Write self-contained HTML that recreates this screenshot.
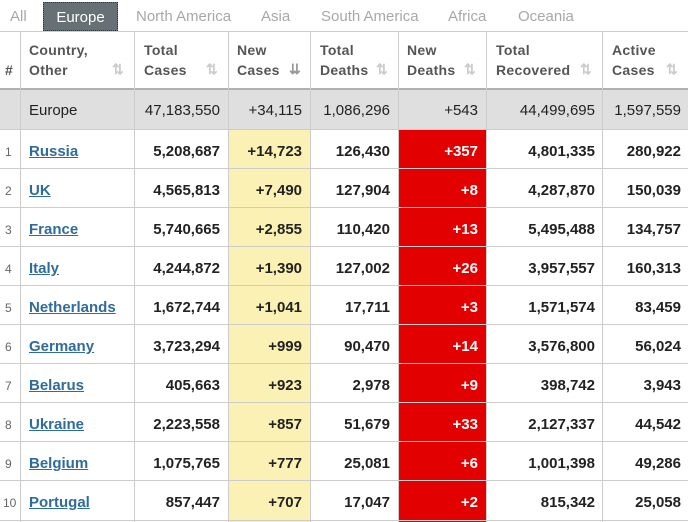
<!DOCTYPE html>
<html><head><meta charset="utf-8"><style>
*{margin:0;padding:0;box-sizing:border-box}
body{width:688px;height:522px;overflow:hidden;background:#fff;font-family:"Liberation Sans",Arial,sans-serif;position:relative}
.tab{position:absolute;top:2px;height:29px;line-height:29px;font-size:15px;color:#a8a8a8}
.tab.act{background:#667075;color:#fff;border:1px dotted #333;text-align:center}
.hl{position:absolute;left:0;width:688px;height:1px;background:#ccc}
.vl{position:absolute;width:1px;background:#ccc}
.c{position:absolute;font-size:15px;color:#222;white-space:nowrap}
.h{position:absolute;font-size:14px;font-weight:bold;color:#555;line-height:20px;letter-spacing:0.3px}
.si{position:absolute;font-size:14px;color:#ccc;font-weight:bold}
.r{text-align:right}
.b{font-weight:bold}
a{color:#2f6c9c;font-weight:bold;text-decoration:underline}
.n{position:absolute;font-size:12px;color:#666}
</style></head><body>
<div class="tab" style="left:10px">All</div>
<div class="tab act" style="left:43px;width:75px">Europe</div>
<div class="tab" style="left:136px">North America</div>
<div class="tab" style="left:261px">Asia</div>
<div class="tab" style="left:321px">South America</div>
<div class="tab" style="left:448px">Africa</div>
<div class="tab" style="left:518px">Oceania</div>

<div style="position:absolute;left:0;top:90px;width:688px;height:40px;background:#dfdfdf"></div>
<div style="position:absolute;left:229px;top:130px;width:81px;height:392px;background:#fcf1b4"></div>
<div style="position:absolute;left:398px;top:130px;width:89px;height:392px;background:#e30000"></div>

<div class="hl" style="top:31px"></div>
<div style="position:absolute;left:0;top:88px;width:688px;height:2px;background:#b0b0b0"></div>
<div class="hl" style="top:129px"></div>
<div class="hl" style="top:168px"></div>
<div class="hl" style="top:207px"></div>
<div class="hl" style="top:246px"></div>
<div class="hl" style="top:285px"></div>
<div class="hl" style="top:324px"></div>
<div class="hl" style="top:363px"></div>
<div class="hl" style="top:402px"></div>
<div class="hl" style="top:441px"></div>
<div class="hl" style="top:480px"></div>
<div class="hl" style="top:520px"></div>

<div class="vl" style="left:20px;top:31px;height:491px"></div>
<div class="vl" style="left:134px;top:31px;height:491px"></div>
<div class="vl" style="left:228px;top:31px;height:491px"></div>
<div class="vl" style="left:310px;top:31px;height:491px"></div>
<div class="vl" style="left:398px;top:31px;height:491px"></div>
<div class="vl" style="left:486px;top:31px;height:491px"></div>
<div class="vl" style="left:602px;top:31px;height:491px"></div>

<div class="h" style="left:5px;top:60px">#</div>
<div class="h" style="left:29px;top:40px">Country,<br>Other</div><div class="si" style="left:112px;top:61px">⇅</div>
<div class="h" style="left:144px;top:40px">Total<br>Cases</div><div class="si" style="left:206px;top:61px">⇅</div>
<div class="h" style="left:237px;top:40px">New<br>Cases</div><div class="si" style="left:289px;top:61px;color:#999">⇊</div>
<div class="h" style="left:320px;top:40px">Total<br>Deaths</div><div class="si" style="left:376px;top:61px">⇅</div>
<div class="h" style="left:407px;top:40px">New<br>Deaths</div><div class="si" style="left:464px;top:61px">⇅</div>
<div class="h" style="left:496px;top:40px">Total<br>Recovered</div><div class="si" style="left:580px;top:61px">⇅</div>
<div class="h" style="left:612px;top:40px">Active<br>Cases</div><div class="si" style="left:666px;top:61px">⇅</div>

<div id="rows"></div>
<script>
var d=[["","Europe","47,183,550","+34,115","1,086,296","+543","44,499,695","1,597,559"],
["1","Russia","5,208,687","+14,723","126,430","+357","4,801,335","280,922"],
["2","UK","4,565,813","+7,490","127,904","+8","4,287,870","150,039"],
["3","France","5,740,665","+2,855","110,420","+13","5,495,488","134,757"],
["4","Italy","4,244,872","+1,390","127,002","+26","3,957,557","160,313"],
["5","Netherlands","1,672,744","+1,041","17,711","+3","1,571,574","83,459"],
["6","Germany","3,723,294","+999","90,470","+14","3,576,800","56,024"],
["7","Belarus","405,663","+923","2,978","+9","398,742","3,943"],
["8","Ukraine","2,223,558","+857","51,679","+33","2,127,337","44,542"],
["9","Belgium","1,075,765","+777","25,081","+6","1,001,398","49,286"],
["10","Portugal","857,447","+707","17,047","+2","815,342","25,058"]];
var rights=[220,302,390,478,595,681],h="";
d.forEach(function(r,i){
 var y=i==0?102:143+39*(i-1);
 var bold=i>0;
 h+='<div class="n" style="left:'+(r[0].length>1?3:5)+'px;top:'+(y+2)+'px">'+r[0]+'</div>';
 h+='<div class="c" style="left:29px;top:'+y+'px">'+(bold?'<a>'+r[1]+'</a>':r[1])+'</div>';
 for(var k=2;k<8;k++){
  var col=(k==5&&bold)?'#fff':'#222';
  h+='<div class="c r'+(bold?' b':'')+'" style="right:'+(688-rights[k-2])+'px;top:'+y+'px;color:'+col+'">'+r[k]+'</div>';
 }
});
document.getElementById('rows').innerHTML=h;
</script>
</body></html>
